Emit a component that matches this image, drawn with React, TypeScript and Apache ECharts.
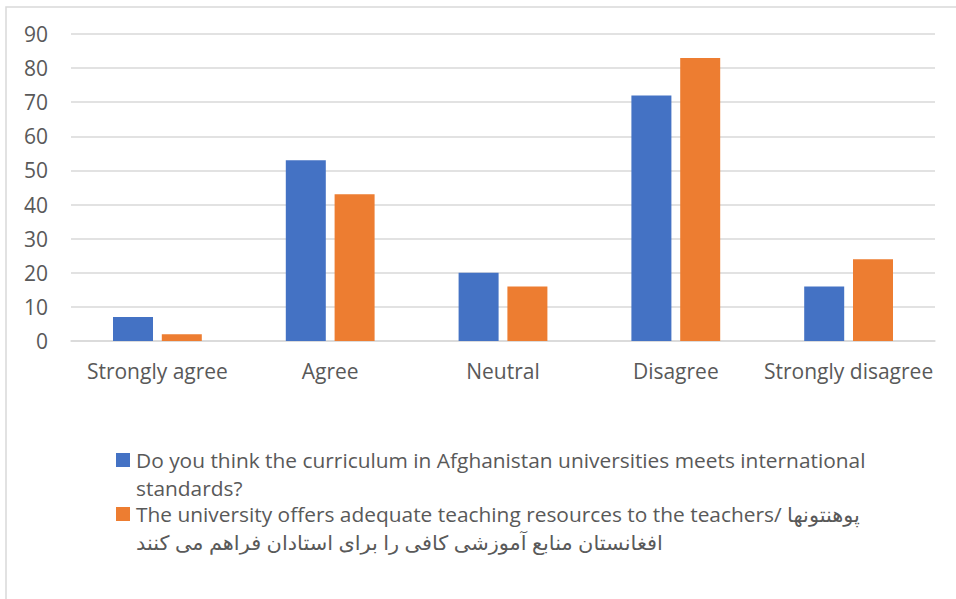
import React, { useEffect, useRef } from "react";
import * as echarts from "echarts";

const categories = ["Strongly agree", "Agree", "Neutral", "Disagree", "Strongly disagree"];
const seriesNames = [
  "Do you think the curriculum in Afghanistan universities meets international standards?",
  "The university offers adequate teaching resources to the teachers/ پوهنتونهای افغانستان منابع آموزشی کافی را برای استادان فراهم می کنند",
];
const curriculumValues = [7, 53, 20, 72, 16];
const resourcesValues = [2, 43, 16, 83, 24];
const legendLines = [
  ["Do you think the curriculum in Afghanistan universities meets international", "standards?"],
  ["The university offers adequate teaching resources to the teachers/ پوهنتونها", "افغانستان منابع آموزشی کافی را برای استادان فراهم می کنند"],
];
const colors = ["#4472C4", "#ED7D31"];
const yMax = 90;
const yInterval = 10;

export default function App() {
  const ref = useRef<HTMLDivElement>(null);
  useEffect(() => {
    if (!ref.current) return;
    const chart = echarts.init(ref.current, null, { renderer: "svg" });
    const font = "'Open Sans', 'DejaVu Sans', sans-serif";
    const textColor = "#595959";
    const legendGraphics: any[] = [];
    const lineTops = [[460, 488], [514, 542]];
    legendLines.forEach((lines, i) => {
      legendGraphics.push({
        type: "rect",
        shape: { x: 116, y: lineTops[i][0] - 7, width: 14, height: 14 },
        style: { fill: colors[i] },
      });
      lines.forEach((ln, j) => {
        legendGraphics.push({
          type: "text",
          x: 136,
          y: lineTops[i][j],
          scaleX: 1.045,
          style: {
            text: ln,
            fill: textColor,
            font: `20px ${font}`,
            textVerticalAlign: "middle",
            textAlign: "left",
          },
        });
      });
    });
    chart.setOption({
      animation: false,
      backgroundColor: "#ffffff",
      grid: { left: 71, right: 21, top: 34, bottom: 258, containLabel: false },
      xAxis: {
        type: "category",
        data: categories,
        axisLine: { show: true, lineStyle: { color: "#d9d9d9", width: 1.5 } },
        axisTick: { show: false },
        axisLabel: { interval: 0, color: textColor, fontSize: 21, fontFamily: font, margin: 19 },
      },
      yAxis: {
        type: "value",
        min: 0,
        max: yMax,
        interval: yInterval,
        axisLine: { show: false },
        axisTick: { show: false },
        splitLine: { lineStyle: { color: "#d9d9d9", width: 1.5 } },
        axisLabel: { color: textColor, fontSize: 21, fontFamily: font, margin: 23 },
      },
      series: [
        {
          name: seriesNames[0],
          type: "bar",
          data: curriculumValues,
          barWidth: 40,
          barGap: "22%",
          itemStyle: { color: colors[0] },
        },
        {
          name: seriesNames[1],
          type: "bar",
          data: resourcesValues,
          barWidth: 40,
          itemStyle: { color: colors[1] },
        },
      ],
      graphic: [
        {
          type: "rect",
          shape: { x: 6, y: 7, width: 1000, height: 700 },
          style: { fill: "none", stroke: "#d9d9d9", lineWidth: 1.5 },
          silent: true,
        },
        ...legendGraphics,
      ],
    });
    return () => chart.dispose();
  }, []);
  return (
    <div
      ref={ref}
      style={{ position: "fixed", left: 0, top: 0, width: 956, height: 599 }}
    />
  );
}
